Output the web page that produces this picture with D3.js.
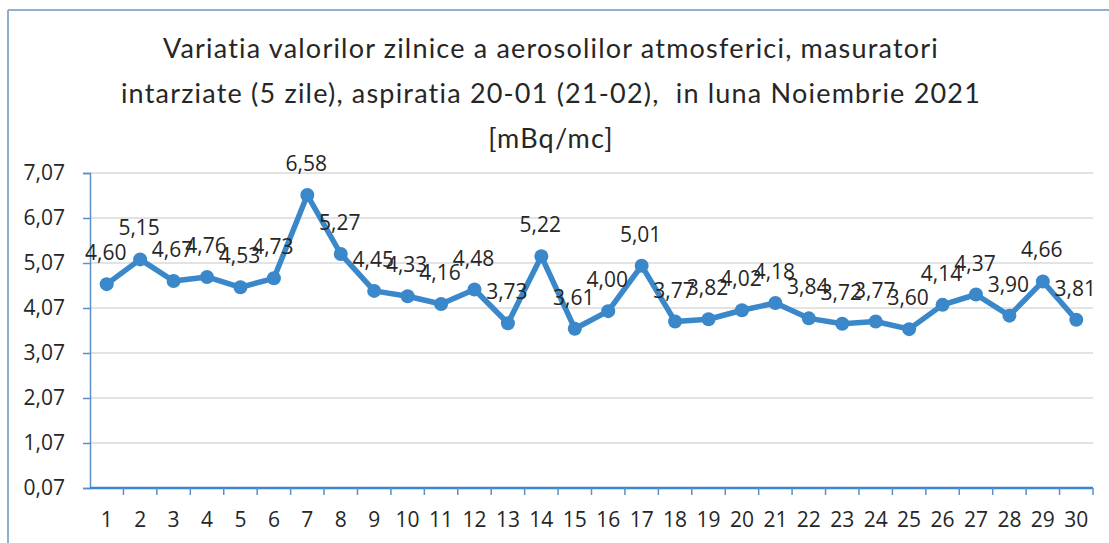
<!DOCTYPE html>
<html>
<head>
<meta charset="UTF-8">
<title></title>
<style>
  body { margin: 0; background: #fff; }
  text { font-family: "Open Sans", "Liberation Sans", sans-serif; fill: #262626; }
</style>
</head>
<body>
<script src="https://cdn.jsdelivr.net/npm/d3@7"></script>
<script>
var width = 1109, height = 543;

// data
var days = d3.range(1, 31);
var values = [4.60, 5.15, 4.67, 4.76, 4.53, 4.73, 6.58, 5.27, 4.45, 4.33,
              4.16, 4.48, 3.73, 5.22, 3.61, 4.00, 5.01, 3.77, 3.82, 4.02,
              4.18, 3.84, 3.72, 3.77, 3.60, 4.14, 4.37, 3.90, 4.66, 3.81];
var yTicks = [0.07, 1.07, 2.07, 3.07, 4.07, 5.07, 6.07, 7.07];
var titleLines = ["Variatia valorilor zilnice a aerosolilor atmosferici, masuratori",
                  "intarziate (5 zile), aspiratia 20-01 (21-02),  in luna Noiembrie 2021",
                  "[mBq/mc]"];

var svg = d3.select("body").append("svg")
  .attr("width", width)
  .attr("height", height);

// chart frame (only left + top edges show in the scan)
svg.append("line").attr("x1", 8).attr("x2", width).attr("y1", 10).attr("y2", 10)
  .attr("stroke", "#8fb0cf").attr("stroke-width", 2);
svg.append("line").attr("x1", 8).attr("x2", 8).attr("y1", 10).attr("y2", height)
  .attr("stroke", "#8fb0cf").attr("stroke-width", 2);

// title
svg.append("g").selectAll("text")
  .data(titleLines)
  .enter().append("text")
  .attr("x", 551)
  .attr("y", function(d, i){ return 58 + i * 45; })
  .attr("text-anchor", "middle")
  .style("font-family", "Lato, 'Open Sans', sans-serif")
  .style("font-size", "27px")
  .style("letter-spacing", "1.2px")
  .style("white-space", "pre")
  .attr("fill", "#303030")
  .text(function(d){ return d; });

var pLeft = 90, pRight = 1093, pTop = 173, pBottom = 488;

var x = d3.scaleBand().domain(days).range([pLeft, pRight]);
var y = d3.scaleLinear().domain([0.07, 7.07]).range([pBottom, pTop]);

// grid
svg.append("g").selectAll("line")
  .data(yTicks.slice(1))
  .enter().append("line")
  .attr("x1", pLeft).attr("x2", pRight)
  .attr("y1", function(d){ return y(d); })
  .attr("y2", function(d){ return y(d); })
  .attr("stroke", "#e3e3e3").attr("stroke-width", 2);

// y axis
var yAxis = svg.append("g")
  .attr("transform", "translate(" + pLeft + ",0)")
  .call(d3.axisLeft(y).tickValues(yTicks).tickSize(7).tickPadding(18)
        .tickFormat(function(d){ return d.toFixed(2).replace(".", ","); }));
yAxis.select(".domain").attr("stroke", "#5b8fc7").attr("stroke-width", 1.5);
yAxis.selectAll(".tick line").attr("stroke", "#5b8fc7").attr("stroke-width", 1.5);
yAxis.selectAll("text").style("font-size", "21px").style("font-family", "'Open Sans', sans-serif").attr("fill", "#262626");

// x axis: ticks at band edges
var xAxis = svg.append("g")
  .attr("transform", "translate(0," + pBottom + ")");
xAxis.append("line").attr("x1", pLeft).attr("x2", pRight)
  .attr("stroke", "#3d86cf").attr("stroke-width", 2.5);
xAxis.selectAll(".xt")
  .data(days)
  .enter().append("line")
  .attr("class", "xt")
  .attr("x1", function(d){ return x(d) + x.bandwidth(); })
  .attr("x2", function(d){ return x(d) + x.bandwidth(); })
  .attr("y1", 0).attr("y2", 7)
  .attr("stroke", "#5b8fc7").attr("stroke-width", 1.5);
xAxis.selectAll(".xl")
  .data(days)
  .enter().append("text")
  .attr("class", "xl")
  .attr("x", function(d){ return x(d) + x.bandwidth() / 2; })
  .attr("y", 39)
  .attr("text-anchor", "middle")
  .style("font-size", "21px")
  .text(function(d){ return d; });

// line + markers
var cx = function(d, i){ return x(days[i]) + x.bandwidth() / 2; };
var line = d3.line()
  .x(cx)
  .y(function(d){ return y(d); });

svg.append("path")
  .datum(values)
  .attr("fill", "none")
  .attr("stroke", "#3a88c9")
  .attr("stroke-width", 5.5)
  .attr("stroke-linejoin", "round")
  .attr("d", line);

svg.append("g").selectAll("circle")
  .data(values)
  .enter().append("circle")
  .attr("cx", cx)
  .attr("cy", function(d){ return y(d); })
  .attr("r", 7)
  .attr("fill", "#3a88c9");

// data labels
svg.append("g").selectAll("text")
  .data(values)
  .enter().append("text")
  .attr("x", function(d, i){ return cx(d, i) - 1; })
  .attr("y", function(d){ return y(d) - 24; })
  .attr("text-anchor", "middle")
  .style("font-size", "21px")
  .text(function(d){ return d.toFixed(2).replace(".", ","); });
</script>
</body>
</html>
